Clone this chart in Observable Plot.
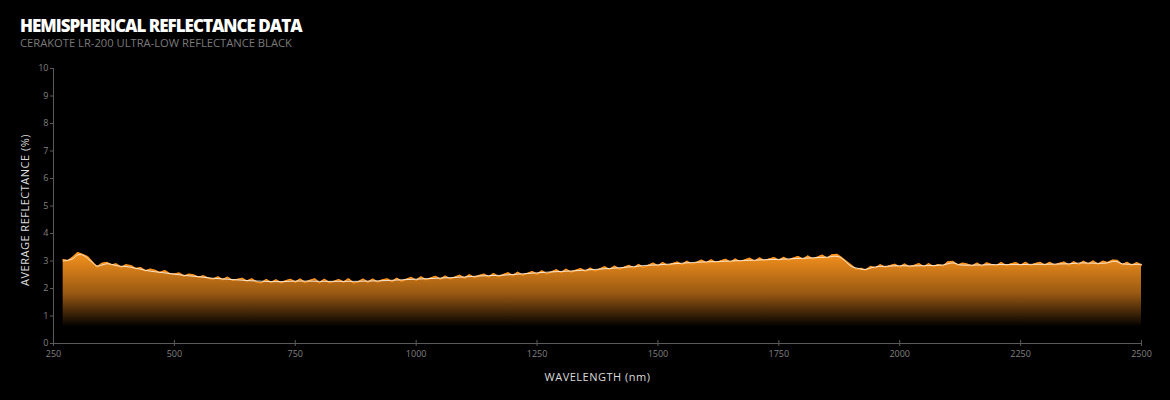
<!DOCTYPE html>
<html><head><meta charset="utf-8">
<script src="https://cdn.jsdelivr.net/npm/d3@7"></script>
<script src="https://cdn.jsdelivr.net/npm/@observablehq/plot@0.6"></script>
<style>
html,body{margin:0;padding:0;background:#000;}
body{width:1170px;height:400px;overflow:hidden;font-family:"Open Sans",sans-serif;}
#head{position:relative;height:55px;}
#title{position:absolute;left:20px;top:14px;font-size:17px;font-weight:800;color:#fff;letter-spacing:-1.0px;white-space:nowrap;line-height:normal;}
#subtitle{position:absolute;left:20px;top:35px;font-size:11.2px;font-weight:400;color:#7a7a7a;white-space:nowrap;line-height:normal;}
</style>
</head><body>
<div id="head"><div id="title">HEMISPHERICAL REFLECTANCE DATA</div><div id="subtitle">CERAKOTE LR-200 ULTRA-LOW REFLECTANCE BLACK</div></div>
<div id="chart"></div>
<script>
const xTicks = [250, 500, 750, 1000, 1250, 1500, 1750, 2000, 2250, 2500];
const yTicks = [0, 1, 2, 3, 4, 5, 6, 7, 8, 9, 10];
const xLabel = "WAVELENGTH (nm)";
const yLabel = "AVERAGE REFLECTANCE (%)";

const rawWavelength = [
270,280,290,300,310,320,330,340,350,360,370,380,390,400,
410,420,430,440,450,460,470,480,490,500,
510,520,530,540,550,560,570,580,590,600,
610,620,630,640,650,660,670,680,690,700,
710,720,730,740,750,760,770,780,790,800,
810,820,830,840,850,860,870,880,890,900,
910,920,930,940,950,960,970,980,990,1000,
1010,1020,1030,1040,1050,1060,1070,1080,1090,1100,
1110,1120,1130,1140,1150,1160,1170,1180,1190,1200,
1210,1220,1230,1240,1250,1260,1270,1280,1290,1300,
1310,1320,1330,1340,1350,1360,1370,1380,1390,1400,
1410,1420,1430,1440,1450,1460,1470,1480,1490,1500,
1510,1520,1530,1540,1550,1560,1570,1580,1590,1600,
1610,1620,1630,1640,1650,1660,1670,1680,1690,1700,
1710,1720,1730,1740,1750,1760,1770,1780,1790,1800,
1810,1820,1830,1840,1850,1860,1870,1880,1890,1900,
1910,1920,1930,1940,1950,1960,1970,1980,1990,2000,
2010,2020,2030,2040,2050,2060,2070,2080,2090,2100,
2110,2120,2130,2140,2150,2160,2170,2180,2190,2200,
2210,2220,2230,2240,2250,2260,2270,2280,2290,2300,
2310,2320,2330,2340,2350,2360,2370,2380,2390,2400,
2410,2420,2430,2440,2450,2460,2470,2480,2490,2500
];
const rawReflectance = [
3.05,3.01,3.14,3.30,3.24,3.16,2.97,2.78,2.91,2.95,2.86,2.89,2.77,2.86,
2.83,2.72,2.76,2.64,2.70,2.66,2.58,2.65,2.54,2.53,
2.56,2.45,2.52,2.49,2.41,2.46,2.38,2.34,2.42,2.32,
2.41,2.30,2.33,2.37,2.27,2.35,2.24,2.21,2.32,2.22,
2.31,2.21,2.28,2.33,2.23,2.34,2.22,2.29,2.35,2.21,
2.33,2.22,2.26,2.32,2.23,2.35,2.21,2.24,2.34,2.23,
2.34,2.24,2.31,2.35,2.25,2.37,2.27,2.34,2.40,2.30,
2.42,2.32,2.38,2.44,2.34,2.45,2.35,2.41,2.48,2.38,
2.50,2.40,2.47,2.52,2.42,2.54,2.43,2.50,2.57,2.47,
2.59,2.49,2.55,2.61,2.52,2.64,2.54,2.60,2.68,2.58,
2.70,2.60,2.66,2.72,2.62,2.74,2.64,2.71,2.79,2.69,
2.81,2.71,2.77,2.84,2.74,2.87,2.77,2.84,2.92,2.82,
2.94,2.84,2.90,2.96,2.87,2.99,2.89,2.95,3.03,2.93,
3.04,2.94,3.00,3.06,2.95,3.07,2.97,3.04,3.10,2.99,
3.11,3.01,3.07,3.12,3.02,3.13,3.03,3.10,3.16,3.06,
3.18,3.08,3.14,3.21,3.10,3.22,3.24,3.12,2.98,2.84,
2.70,2.73,2.67,2.80,2.75,2.86,2.77,2.83,2.88,2.78,
2.89,2.79,2.84,2.90,2.79,2.90,2.80,2.87,2.82,2.97,
2.98,2.85,2.92,2.88,2.82,2.92,2.81,2.93,2.87,2.83,
2.94,2.83,2.89,2.94,2.84,2.95,2.83,2.90,2.95,2.85,
2.95,2.85,2.91,2.96,2.85,2.97,2.87,2.99,2.89,3.00,
2.88,2.99,2.94,3.03,3.02,2.86,2.95,2.84,2.94,2.85
];

const smoothWavelength = [
270,280,290,300,310,320,330,340,350,360,370,380,390,400,
425,450,475,500,525,550,575,600,625,650,675,700,725,750,775,800,
825,850,875,900,925,950,975,1000,1025,1050,1075,1100,1125,1150,1175,1200,
1225,1250,1275,1300,1325,1350,1375,1400,1425,1450,1475,1500,1525,1550,1575,1600,
1625,1650,1675,1700,1725,1750,1775,1800,1825,1850,1870,1880,1890,1900,1915,1925,1935,1950,
1975,2000,2025,2050,2075,2090,2110,2125,2150,2175,2200,2225,2250,2275,2300,2325,2350,2375,
2400,2425,2445,2460,2475,2500
];
const smoothReflectance = [
3.00,3.03,3.08,3.22,3.22,3.10,2.95,2.82,2.85,2.90,2.88,2.83,2.81,2.80,
2.72,2.63,2.58,2.52,2.47,2.43,2.38,2.35,2.32,2.29,2.27,2.25,2.25,2.27,2.27,2.26,
2.26,2.26,2.26,2.27,2.28,2.30,2.32,2.34,2.36,2.38,2.40,2.42,2.45,2.47,2.48,2.51,
2.54,2.57,2.60,2.62,2.64,2.67,2.70,2.73,2.76,2.80,2.84,2.86,2.89,2.92,2.95,2.97,
2.98,3.00,3.02,3.03,3.05,3.06,3.08,3.10,3.12,3.14,3.17,3.10,2.95,2.80,2.73,2.69,2.72,2.79,
2.81,2.83,2.82,2.83,2.84,2.86,2.93,2.86,2.85,2.86,2.87,2.87,2.87,2.88,2.88,2.89,2.90,2.93,
2.92,2.92,2.99,2.90,2.88,2.88
];

const raw = rawWavelength.map((w, i) => ({w, r: rawReflectance[i]}));
const smooth = smoothWavelength.map((w, i) => ({w, r: smoothReflectance[i]}));

const chart = Plot.plot({
  width: 1170,
  height: 345,
  marginTop: 13,
  marginBottom: 57,
  marginLeft: 53,
  marginRight: 29,
  style: {background: "#000", color: "#808080", fontFamily: "Open Sans, sans-serif", fontSize: "9px", overflow: "visible"},
  x: {domain: [250, 2500]},
  y: {domain: [0, 10]},
  marks: [
    Plot.areaY(raw, {x: "w", y: "r", fill: "url(#refGrad)"}),
    Plot.line(raw, {x: "w", y: "r", stroke: "#ff951c", strokeWidth: 1.4}),
    Plot.line(smooth, {x: "w", y: "r", stroke: "#ffffff", strokeOpacity: 0.8, strokeWidth: 1, curve: "catmull-rom"}),
    Plot.ruleX([250], {stroke: "#5a5a5a"}),
    Plot.ruleY([0], {stroke: "#5a5a5a"}),
    Plot.axisX({ticks: xTicks, tickSize: 3, tickPadding: 4, stroke: "#5a5a5a", fill: "#808080", label: null, tickFormat: d => String(d)}),
    Plot.ruleX(xTicks, {x: d => d, y1: 0, y2: 0.11, stroke: "#5a5a5a"}),
    Plot.axisY({ticks: yTicks, tickSize: 3, tickPadding: 2, stroke: "#5a5a5a", fill: "#808080", label: null}),
    Plot.text([xLabel], {frameAnchor: "bottom", dy: 37, fill: "#dcdcdc", fontSize: 11}),
    Plot.text([yLabel], {frameAnchor: "left", dx: -28, dy: 4, rotate: -90, textAnchor: "middle", fill: "#dcdcdc", fontSize: 11})
  ]
});

d3.select(chart).insert("defs", ":first-child").html(
  '<linearGradient id="refGrad" x1="0" y1="0" x2="0" y2="1">' +
  '<stop offset="0" stop-color="#f7931e"/>' +
  '<stop offset="0.45" stop-color="#9a5912"/>' +
  '<stop offset="0.82" stop-color="#000000"/>' +
  '</linearGradient>'
);
d3.select(chart).selectAll("text")
  .filter(function() { return this.textContent === xLabel || this.textContent === yLabel; })
  .attr("letter-spacing", "0.5px");
document.getElementById("chart").appendChild(chart);
</script>
</body></html>
